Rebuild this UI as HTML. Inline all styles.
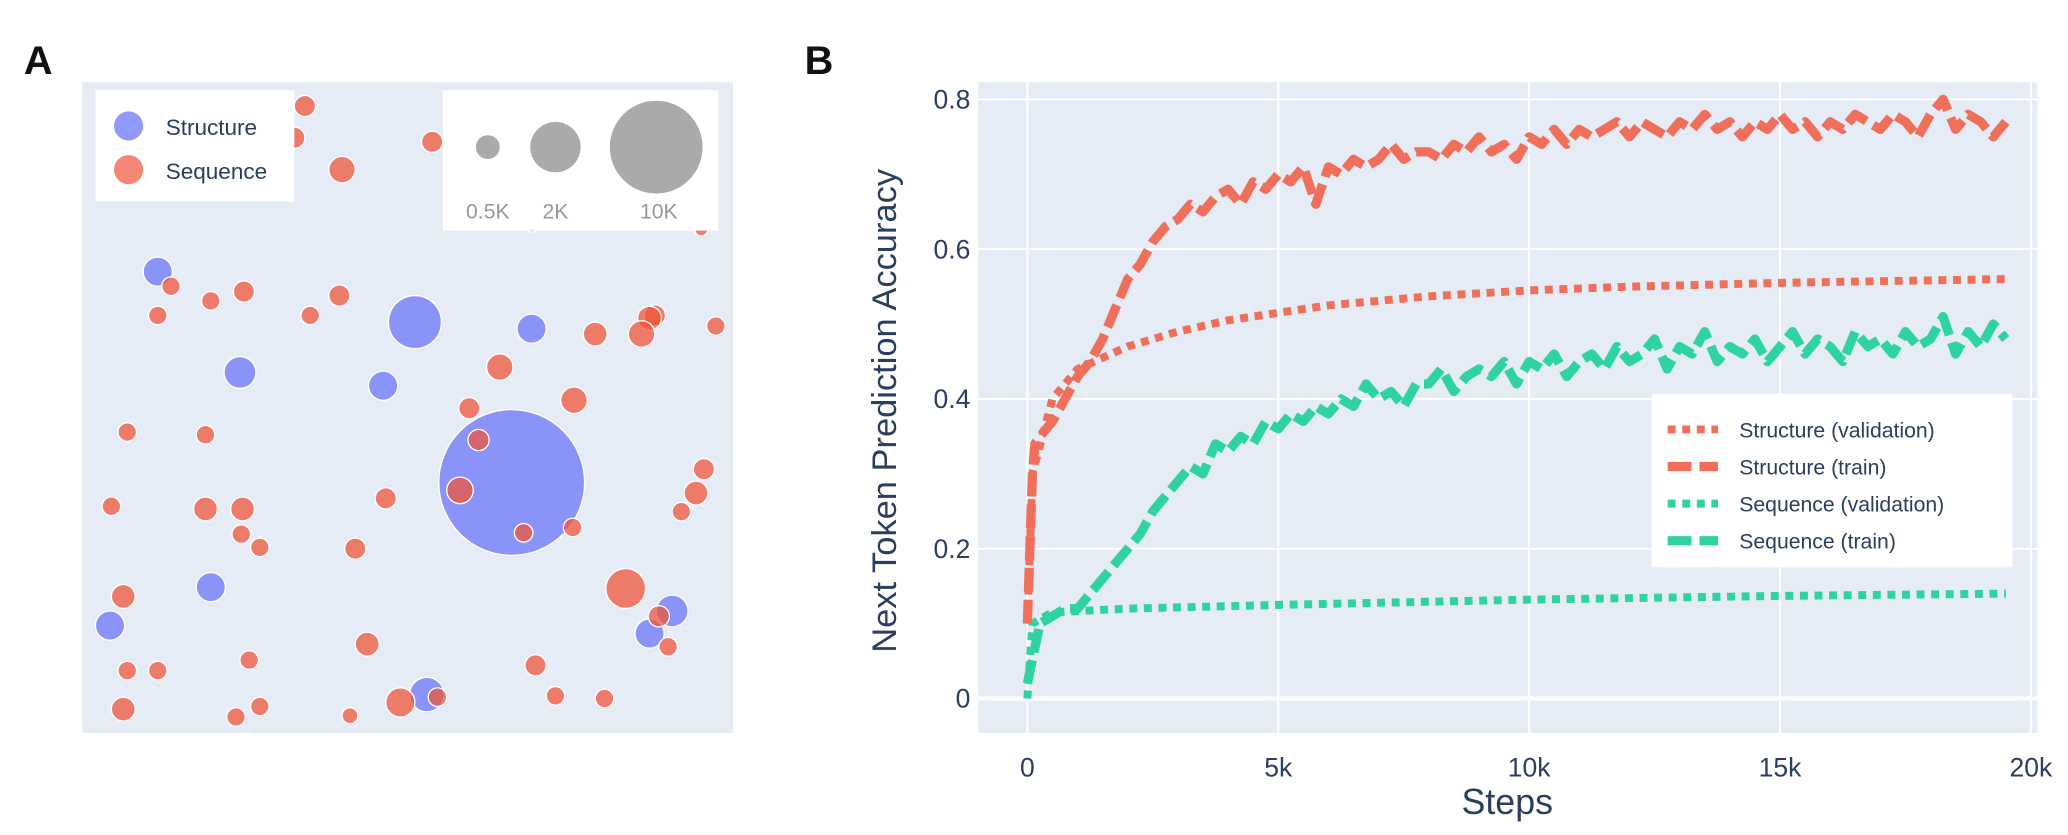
<!DOCTYPE html>
<html><head><meta charset="utf-8"><style>
html,body{margin:0;padding:0;background:#fff;}
svg{display:block;font-family:"Liberation Sans",sans-serif;}
</style></head><body>
<svg id="fig" width="2068" height="835" viewBox="0 0 1560 630" preserveAspectRatio="none" xmlns="http://www.w3.org/2000/svg">
<text x="18" y="56" font-size="30" font-weight="bold" fill="#111">A</text>
<text x="607" y="56" font-size="30" font-weight="bold" fill="#111">B</text>
<rect x="62" y="62" width="491" height="491" fill="#e5ecf6"/>
<g id="bubbles"></g>
<g>
<rect x="72" y="68" width="150" height="84" fill="#fff"/>
<circle cx="97" cy="95" r="11" fill="#636efa" opacity="0.7"/>
<text x="125" y="102" font-size="17" fill="#2a3f5f">Structure</text>
<circle cx="97" cy="128" r="11" fill="#ef553b" opacity="0.7"/>
<text x="125" y="135" font-size="17" fill="#2a3f5f">Sequence</text>
</g>
<g>
<rect x="334" y="68" width="208" height="106" fill="#fff"/>
<circle cx="368" cy="111" r="9" fill="#aaa"/>
<circle cx="419" cy="111" r="19" fill="#aaa"/>
<circle cx="495" cy="111" r="35" fill="#aaa"/>
<text x="368" y="165" font-size="16" fill="#999" text-anchor="middle">0.5K</text>
<text x="419" y="165" font-size="16" fill="#999" text-anchor="middle">2K</text>
<text x="497" y="165" font-size="16" fill="#999" text-anchor="middle">10K</text>
</g>
<rect x="738" y="62" width="799" height="491" fill="#e5ecf6"/>
<g id="grid"></g>
<g id="lines"></g>
<g id="ticks"></g>
<text x="1137" y="614" font-size="27" fill="#2a3f5f" text-anchor="middle">Steps</text>
<text transform="translate(676,310) rotate(-90)" font-size="26" fill="#2a3f5f" text-anchor="middle">Next Token Prediction Accuracy</text>
<g>
<rect x="1246" y="297" width="272" height="131" fill="#fff"/>
<line x1="1258" y1="324" x2="1296" y2="324" stroke="#ef6f5a" stroke-width="6" stroke-dasharray="6,5"/>
<text x="1312" y="330" font-size="16" fill="#2a3f5f">Structure (validation)</text>
<line x1="1258" y1="352" x2="1296" y2="352" stroke="#ef6f5a" stroke-width="7" stroke-dasharray="18,6"/>
<text x="1312" y="358" font-size="16" fill="#2a3f5f">Structure (train)</text>
<line x1="1258" y1="380" x2="1296" y2="380" stroke="#2fd3a2" stroke-width="6" stroke-dasharray="6,5"/>
<text x="1312" y="386" font-size="16" fill="#2a3f5f">Sequence (validation)</text>
<line x1="1258" y1="408" x2="1296" y2="408" stroke="#2fd3a2" stroke-width="7" stroke-dasharray="18,6"/>
<text x="1312" y="414" font-size="16" fill="#2a3f5f">Sequence (train)</text>
</g>
</svg>
<script>
const NS="http://www.w3.org/2000/svg";
const blueBubbles=[[119,205,11],[313,243,20],[401,248,11],[181,281,12],[289,291,11],[386,364,55],[159,443,11],[83,472,11],[507,461,12],[490,478,11],[322,524,13]];
const redBubbles=[[230,80,8],[222,104,8],[326,107,8],[258,128,10],[129,216,7],[184,220,8],[256,223,8],[159,227,7],[119,238,7],[234,238,7],[494,238,8],[490,240,9],[449,252,9],[484,252,10],[540,246,7],[377,277,10],[433,302,10],[354,308,8],[96,326,7],[155,328,7],[361,332,8],[531,354,8],[347,370,10],[525,372,9],[84,382,7],[155,384,9],[183,384,9],[291,376,8],[514,386,7],[182,403,7],[196,413,7],[268,414,8],[395,402,7],[432,398,7],[472,444,15],[93,450,9],[497,465,8],[504,488,7],[277,486,9],[188,498,7],[96,506,7],[119,506,7],[404,502,8],[302,530,11],[330,526,7],[419,525,7],[456,527,7],[93,535,9],[196,533,7],[178,541,7],[264,540,6],[401,170,5],[529,173,5]];
const xTicks=[0,5000,10000,15000,20000];
const xTickLabels=["0","5k","10k","15k","20k"];
const yTicks=[0,0.2,0.4,0.6,0.8];
const yTickLabels=["0","0.2","0.4","0.6","0.8"];
const valSteps=[0,100,500,1000,2000,3000,4000,5000,6000,8000,10000,12000,15000,19500];
const structVal=[0.10,0.30,0.40,0.44,0.47,0.49,0.505,0.515,0.525,0.537,0.545,0.55,0.555,0.56];
const seqValSteps=[0,100,500,2000,5000,10000,15000,19500];
const seqVal=[0,0.10,0.115,0.12,0.125,0.132,0.137,0.14];
const trainStepSize=250;
const structTrainEarlySteps=[0,100,150];
const structTrainEarly=[0.10,0.30,0.34];
const structTrain=[0.10,0.35,0.37,0.40,0.43,0.45,0.48,0.52,0.56,0.58,0.61,0.63,0.64,0.66,0.65,0.67,0.68,0.66,0.69,0.68,0.70,0.69,0.71,0.66,0.71,0.70,0.72,0.71,0.72,0.74,0.72,0.73,0.73,0.72,0.74,0.73,0.75,0.73,0.74,0.72,0.75,0.74,0.76,0.74,0.76,0.75,0.76,0.77,0.75,0.77,0.76,0.75,0.77,0.76,0.78,0.76,0.77,0.75,0.77,0.76,0.78,0.76,0.77,0.75,0.77,0.76,0.78,0.77,0.76,0.78,0.77,0.75,0.78,0.80,0.76,0.78,0.77,0.75,0.77];
const seqTrain=[0.02,0.10,0.11,0.12,0.12,0.14,0.16,0.18,0.20,0.22,0.25,0.27,0.29,0.31,0.30,0.34,0.33,0.35,0.34,0.37,0.36,0.38,0.37,0.39,0.38,0.40,0.39,0.42,0.40,0.41,0.39,0.42,0.42,0.44,0.41,0.43,0.44,0.43,0.45,0.42,0.45,0.44,0.46,0.43,0.45,0.46,0.44,0.47,0.45,0.46,0.48,0.44,0.47,0.46,0.49,0.45,0.47,0.46,0.48,0.45,0.47,0.49,0.46,0.48,0.47,0.45,0.49,0.47,0.48,0.46,0.49,0.47,0.48,0.51,0.46,0.49,0.47,0.50,0.48];
const X=v=>775+(v/20000)*757;
const Y=v=>527-(v/0.8)*452;
function mk(tag,attrs,parent){const e=document.createElementNS(NS,tag);for(const k in attrs)e.setAttribute(k,attrs[k]);parent.appendChild(e);return e;}
const bg=document.getElementById('bubbles');
blueBubbles.forEach(b=>{const c=mk('circle',{cx:b[0],cy:b[1],r:b[2],fill:'#636efa','fill-opacity':0.7,stroke:'#fff','stroke-width':1},bg);

});
redBubbles.forEach(b=>{const c=mk('circle',{cx:b[0],cy:b[1],r:b[2],fill:'#ef553b','fill-opacity':0.75,stroke:'#fff','stroke-width':1},bg);

});
const grid=document.getElementById('grid'),ticks=document.getElementById('ticks');
xTicks.forEach((t,i)=>{const l=mk('line',{x1:X(t),x2:X(t),y1:62,y2:553,stroke:'#fff','stroke-width':1.5},grid);


const tx=mk('text',{x:X(t),y:586,'font-size':20,fill:'#2a3f5f','text-anchor':'middle'},ticks);tx.textContent=xTickLabels[i];

});
yTicks.forEach((t,i)=>{const l=mk('line',{x1:738,x2:1537,y1:Y(t),y2:Y(t),stroke:'#fff','stroke-width':t===0?3:1.5},grid);


const tx=mk('text',{x:732,y:Y(t)+7,'font-size':20,fill:'#2a3f5f','text-anchor':'end'},ticks);tx.textContent=yTickLabels[i];

});
const lg=document.getElementById('lines');
function path(xs,ys,color,w,dash,name){const d=xs.map((x,i)=>(i?'L':'M')+X(x).toFixed(1)+','+Y(ys[i]).toFixed(1)).join(' ');
const p=mk('path',{d:d,fill:'none',stroke:color,'stroke-width':w,'stroke-dasharray':dash,'stroke-linejoin':'round'},lg);

}
const trainX=seqTrain.map((_,i)=>i*trainStepSize);
const sX=structTrainEarlySteps.concat(structTrain.slice(1).map((_,i)=>(i+1)*trainStepSize));
const sY=structTrainEarly.concat(structTrain.slice(1));
path(seqValSteps,seqVal,'#2fd3a2',6,'6,5','sequence-validation-line');
path(trainX,seqTrain,'#2fd3a2',7,'18,6','sequence-train-line');
path(valSteps,structVal,'#ef6f5a',6,'6,5','structure-validation-line');
path(sX,sY,'#ef6f5a',7,'18,6','structure-train-line');
</script>
</body></html>
